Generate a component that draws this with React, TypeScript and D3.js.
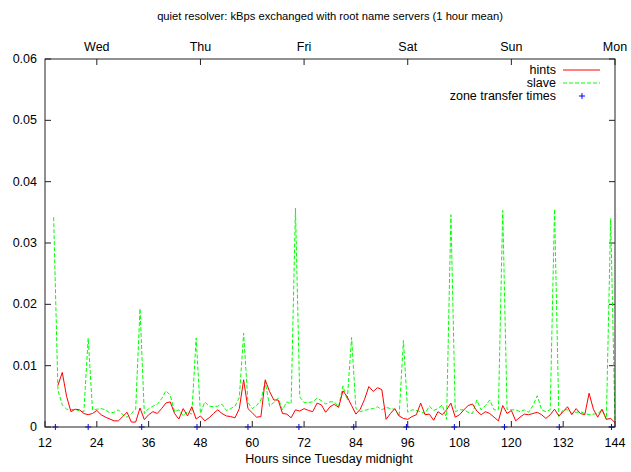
import React from "react";
import * as d3 from "d3";

const slaveHours = d3.range(14, 145);
const slaveValues = [
  34.2, 6.0, 3.6, 2.9, 2.8, 2.9, 2.6, 2.5, 14.5, 2.8,
  2.9, 3.0, 2.8, 2.3, 2.4, 2.8, 2.0, 1.6, 2.2, 2.9,
  19.3, 2.2, 3.0, 3.4, 3.7, 4.6, 5.9, 5.2, 2.5, 2.8,
  1.8, 2.5, 2.1, 14.5, 2.2, 4.1, 3.4, 3.3, 3.4, 3.7,
  2.7, 3.0, 3.4, 4.8, 15.3, 4.0, 3.0, 3.5, 4.4, 7.4,
  3.4, 4.0, 4.7, 2.8, 4.1, 3.75, 35.7, 4.9, 4.0, 4.0,
  4.1, 4.7, 4.3, 3.75, 4.1, 4.1, 3.3, 6.7, 4.4, 14.6,
  3.0, 2.5, 2.7, 2.9, 3.0, 3.3, 2.8, 3.2, 3.0, 2.9,
  1.7, 14.1, 2.4, 2.8, 2.7, 2.5, 2.2, 3.4, 2.7, 3.0,
  3.6, 1.25, 34.6, 2.5, 2.8, 2.8, 2.4, 2.2, 4.4, 2.8,
  3.5, 4.4, 2.8, 2.8, 35.3, 2.9, 2.8, 2.8, 2.5, 2.8,
  2.4, 3.5, 5.1, 2.8, 2.5, 2.8, 35.5, 1.7, 2.8, 2.8,
  2.2, 2.4, 2.5, 2.2, 2.0, 2.1, 2.2, 2.8, 1.25, 34.0,
  0.7,
];

const hintsHours = d3.range(15, 145);
const hintsValues = [
  6.8, 8.9, 5.0, 2.5, 2.9, 2.8, 2.2, 2.0, 2.2, 2.7,
  2.0, 1.6, 1.3, 1.0, 1.0, 1.7, 2.4, 0.8, 0.8, 3.1,
  1.2, 2.0, 2.5, 2.2, 3.0, 3.9, 4.1, 2.2, 1.3, 3.0,
  1.8, 3.3, 1.3, 1.8, 1.0, 1.5, 2.2, 2.8, 2.2, 1.8,
  1.7, 1.5, 3.0, 7.7, 3.0, 2.3, 1.6, 1.7, 7.7, 5.8,
  4.4, 4.4, 2.2, 2.1, 1.5, 2.8, 2.6, 3.0, 2.7, 2.5,
  3.9, 3.6, 2.4, 3.3, 3.7, 3.2, 5.9, 4.9, 3.5, 2.1,
  2.9, 4.5, 6.6, 5.8, 6.4, 6.1, 1.25, 2.2, 3.0, 1.8,
  1.4, 1.25, 1.7, 2.0, 3.9, 2.0, 2.1, 1.1, 2.5, 2.0,
  2.8, 3.9, 1.6, 2.0, 2.8, 3.5, 3.75, 2.6, 2.0, 2.5,
  2.2, 1.6, 1.0, 3.5, 2.2, 2.7, 1.0, 1.6, 2.1, 2.0,
  2.2, 2.4, 2.0, 1.4, 2.0, 2.9, 1.8, 2.5, 3.3, 2.0,
  3.0, 2.2, 2.0, 5.5, 2.9, 1.6, 2.9, 1.25, 1.4, 0.7,
];

const zoneTransferTimes = [14.4, 22.0, 34.4, 47.2, 59.0, 70.8, 83.5, 95.7, 106.8, 118.4, 131.1, 143.2];

const xTicks = [12, 24, 36, 48, 60, 72, 84, 96, 108, 120, 132, 144];
const yTicks = [0, 0.01, 0.02, 0.03, 0.04, 0.05, 0.06];
const dayTicks = [24, 48, 72, 96, 120, 144];
const dayLabels = ["Wed", "Thu", "Fri", "Sat", "Sun", "Mon"];

const W = 631, H = 472;
const L = 45, R = 615, T = 59, B = 427;
const FONT = "'Liberation Sans', Arial, Helvetica, sans-serif";

export default function App() {
  const x = d3.scaleLinear().domain([12, 144]).range([L, R]);
  const y = d3.scaleLinear().domain([0, 0.06]).range([B, T]);
  const line = d3
    .line<[number, number]>()
    .x((d) => x(d[0]))
    .y((d) => y(d[1] / 1000));
  const slavePts = slaveHours.map((h, i) => [h, slaveValues[i]] as [number, number]);
  const hintsPts = hintsHours.map((h, i) => [h, hintsValues[i]] as [number, number]);
  const tick = 6;
  const axisColor = "#222";
  return (
    <svg
      width={W}
      height={H}
      style={{ position: "absolute", left: 0, top: 0, background: "#fff" }}
      fontFamily={FONT}
      fontSize={12.5}
    >
      <rect x={0} y={0} width={W} height={H} fill="#fff" />
      <text x={330} y={20} textAnchor="middle" fill="#000" fontSize={11.2}>
        quiet resolver: kBps exchanged with root name servers (1 hour mean)
      </text>
      {/* y ticks */}
      {yTicks.map((v) => (
        <g key={"y" + v}>
          <line x1={L} x2={L + tick} y1={y(v)} y2={y(v)} stroke={axisColor} />
          <line x1={R} x2={R - tick} y1={y(v)} y2={y(v)} stroke={axisColor} />
          <text x={37} y={y(v) + 4} textAnchor="end" fill="#000">
            {v === 0 ? "0" : d3.format(".2f")(v)}
          </text>
        </g>
      ))}
      {/* x ticks */}
      {xTicks.map((v) => (
        <g key={"x" + v}>
          <line x1={x(v)} x2={x(v)} y1={B} y2={B - tick} stroke={axisColor} />
          <text x={x(v)} y={447} textAnchor="middle" fill="#000">
            {v}
          </text>
        </g>
      ))}
      {/* top day ticks */}
      {dayTicks.map((v, i) => (
        <g key={"d" + v}>
          <line x1={x(v)} x2={x(v)} y1={T} y2={T + tick} stroke={axisColor} />
          <text x={x(v)} y={51} textAnchor="middle" fill="#000">
            {dayLabels[i]}
          </text>
        </g>
      ))}
      <text x={329} y={463} textAnchor="middle" fill="#000">
        Hours since Tuesday midnight
      </text>
      {/* series */}
      <path d={line(slavePts) || ""} fill="none" stroke="#00ff00" strokeWidth={1} strokeDasharray="4,2" />
      <path d={line(hintsPts) || ""} fill="none" stroke="#ff0000" strokeWidth={1} />
      {zoneTransferTimes.map((t, i) => (
        <g key={"z" + i} stroke="#0000ff" strokeWidth={1}>
          <line x1={x(t) - 3} x2={x(t) + 3} y1={y(0)} y2={y(0)} />
          <line x1={x(t)} x2={x(t)} y1={y(0) - 3} y2={y(0) + 3} />
        </g>
      ))}
      {/* frame */}
      <rect x={L} y={T} width={R - L} height={B - T} fill="none" stroke={axisColor} strokeWidth={1} />
      {/* legend */}
      <text x={556} y={74} textAnchor="end" fill="#000">hints</text>
      <line x1={563} x2={600} y1={70} y2={70} stroke="#ff0000" />
      <text x={556} y={87} textAnchor="end" fill="#000">slave</text>
      <line x1={563} x2={600} y1={83} y2={83} stroke="#00ff00" strokeDasharray="4,2" />
      <text x={556} y={100} textAnchor="end" fill="#000">zone transfer times</text>
      <g stroke="#0000ff">
        <line x1={579} x2={585} y1={96} y2={96} />
        <line x1={582} x2={582} y1={93} y2={99} />
      </g>
    </svg>
  );
}
